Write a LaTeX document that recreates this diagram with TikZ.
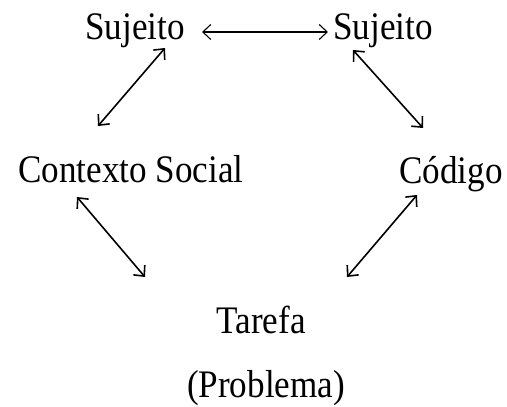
\documentclass[tikz,border=0pt]{standalone}
\usepackage{fontspec}
\setmainfont[FakeStretch=0.9]{Liberation Serif}
\usetikzlibrary{arrows.meta}

\begin{document}
\begin{tikzpicture}[x=1pt,y=1pt,
  rotulo/.style={inner sep=0pt,anchor=base,font=\fontsize{39}{44}\selectfont},
  dupla/.style={{Straight Barb[length=8pt,width=15pt]}-{Straight Barb[length=8pt,width=15pt]},line width=1.6pt}]
\useasboundingbox (0,0) rectangle (507,407);
\node[rotulo] (s1) at (135,367) {Sujeito};
\node[rotulo] (s2) at (383,367) {Sujeito};
\node[rotulo] (ctx) at (131,224) {Contexto Social};
\node[rotulo] (cod) at (451,223) {Código};
\node[rotulo] (tar) at (261,73) {Tarefa};
\node[rotulo] (prob) at (266,9) {(Problema)};
\draw[dupla,line width=1.1pt] ([shift={(67,8)}]s1.base) -- ([shift={(-55,8)}]s2.base);
\draw[dupla] ([shift={(30,-8)}]s1.base) -- ([shift={(-33,57)}]ctx.base);
\draw[dupla] ([shift={(-30,-10)}]s2.base) -- ([shift={(-28,56)}]cod.base);
\draw[dupla] ([shift={(-54,-14)}]ctx.base) -- ([shift={(-116,57)}]tar.base);
\draw[dupla] ([shift={(-34,-11)}]cod.base) -- ([shift={(86,57)}]tar.base);
\end{tikzpicture}
\end{document}
